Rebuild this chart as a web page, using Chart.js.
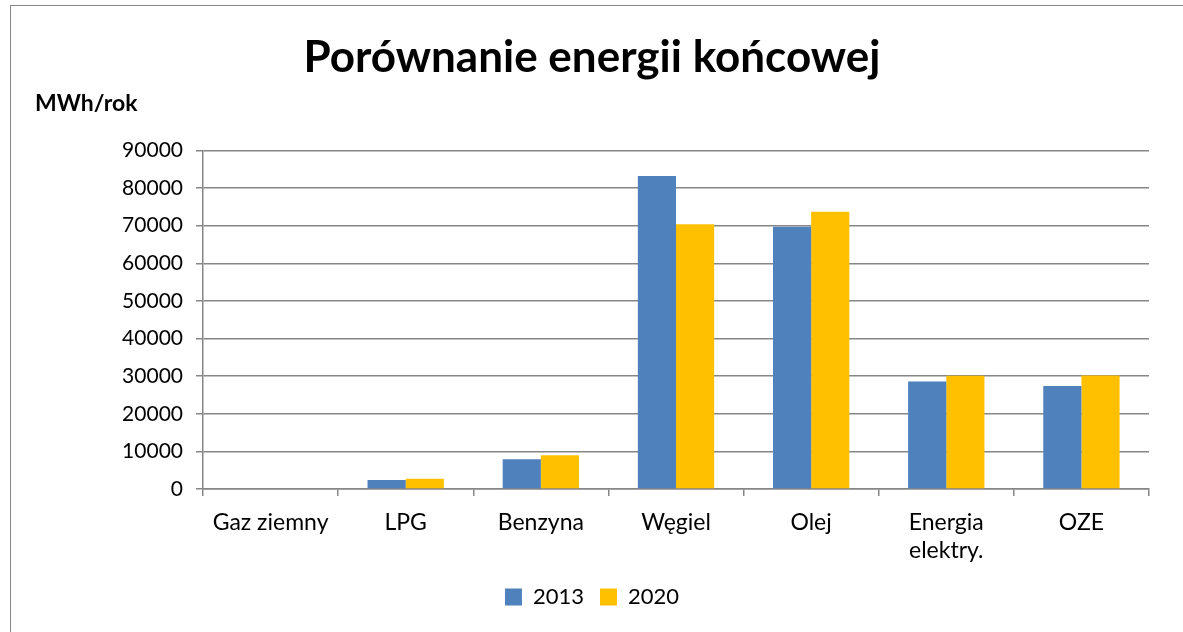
<!DOCTYPE html>
<html>
<head>
<meta charset="utf-8">
<script src="https://cdn.jsdelivr.net/npm/chart.js@4.4.0/dist/chart.umd.min.js"></script>
<style>
  html, body { margin: 0; padding: 0; background: #fff; overflow: hidden; }
  #wrap { position: relative; width: 1183px; height: 632px; overflow: hidden; }
  #frame { position: absolute; left: 10px; top: 5px; width: 1300px; height: 700px; border: 1.5px solid #868686; box-sizing: border-box; pointer-events: none; }
</style>
</head>
<body>
<div id="wrap">
  <canvas id="chart" width="1183" height="632"></canvas>
  <div id="frame"></div>
</div>
<script>
const categories = ['Gaz ziemny', 'LPG', 'Benzyna', 'Węgiel', 'Olej', ['Energia', 'elektry.'], 'OZE'];
const values2013 = [0, 2400, 7900, 83200, 69700, 28600, 27400];
const values2020 = [0, 2700, 9000, 70400, 73700, 30100, 30200];
const yTicks = [0, 10000, 20000, 30000, 40000, 50000, 60000, 70000, 80000, 90000];

const fontFamily = 'Lato, "Open Sans", sans-serif';
const gridColor = '#868686';

const data1 = {
    labels: categories,
    datasets: [
        {
            label: '2013',
            data: values2013,
            backgroundColor: '#4f81bd',
        },
        {
            label: '2020',
            data: values2020,
            backgroundColor: '#ffc000',
        },
    ],
};

const config = {
    type: 'bar',
    data: data1,
    options: {
        responsive: false,
        animation: false,
        layout: {
            padding: { left: 35, right: 34, top: 31, bottom: 14 },
        },
        datasets: {
            bar: {
                barPercentage: 1,
                categoryPercentage: 0.565,
            },
        },
        plugins: {
            title: {
                display: true,
                text: 'Porównanie energii końcowej',
                color: '#000',
                font: { family: fontFamily, size: 44, weight: 'bold' },
                padding: { top: 0, bottom: 6 },
            },
            subtitle: {
                display: true,
                text: 'MWh/rok',
                align: 'start',
                color: '#000',
                font: { family: fontFamily, size: 23, weight: 'bold' },
                padding: { top: 0, bottom: 33 },
            },
            legend: {
                position: 'bottom',
                labels: {
                    color: '#000',
                    font: { family: fontFamily, size: 22 },
                    boxWidth: 17,
                    boxHeight: 17,
                    padding: 16,
                },
            },
            tooltip: { enabled: false },
        },
        scales: {
            x: {
                afterFit: (scale) => { scale.height = 81; },
                grid: {
                    display: true,
                    drawOnChartArea: false,
                    drawTicks: true,
                    tickLength: 7,
                    color: gridColor,
                    lineWidth: 1.5,
                },
                border: { color: gridColor, width: 1.5 },
                ticks: {
                    color: '#000',
                    font: { family: fontFamily, size: 23 },
                    padding: 13,
                    maxRotation: 0,
                    autoSkip: false,
                },
            },
            y: {
                min: 0,
                max: 90000,
                afterFit: (scale) => { scale.width = 168; },
                afterBuildTicks: (scale) => { scale.ticks = yTicks.map(v => ({ value: v })); },
                grid: {
                    color: gridColor,
                    lineWidth: 1.5,
                    tickLength: 7,
                },
                border: { color: gridColor, width: 1.5 },
                ticks: {
                    color: '#000',
                    font: { family: fontFamily, size: 21 },
                    padding: 13,
                    callback: (v) => String(v),
                },
            },
        },
    },
};

var ctx = document.getElementById('chart').getContext('2d');
var myChart = new Chart(ctx, config);
</script>
</body>
</html>
